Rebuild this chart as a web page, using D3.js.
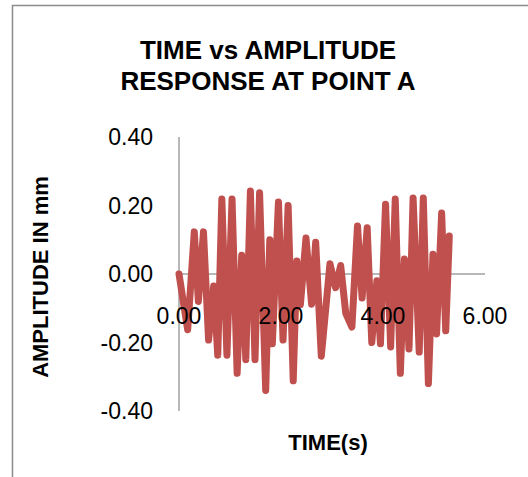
<!DOCTYPE html>
<html>
<head>
<meta charset="utf-8">
<script src="https://cdn.jsdelivr.net/npm/d3@7"></script>
<style>
  body { margin: 0; background: #fff; }
  svg text { font-family: "Liberation Sans", Arial, sans-serif; fill: #000; }
</style>
</head>
<body>
<div id="chart"></div>
<script>
// values
const TIME = [0, 0.17, 0.30, 0.38, 0.48, 0.58, 0.68, 0.76, 0.84, 0.94,
  1.04, 1.14, 1.23, 1.31, 1.40, 1.49, 1.58, 1.70, 1.78, 1.83,
  1.95, 2.04, 2.14, 2.24, 2.31, 2.38, 2.49, 2.60, 2.68, 2.79,
  2.96, 3.07, 3.17, 3.27, 3.39, 3.50, 3.59, 3.69, 3.78, 3.88,
  3.95, 4.05, 4.15, 4.24, 4.34, 4.42, 4.51, 4.59, 4.71, 4.79,
  4.89, 4.98, 5.05, 5.15, 5.23, 5.30];
const AMPLITUDE = [0, -0.163, 0.123, -0.08, 0.123, -0.193, -0.035, -0.237, 0.219, -0.237,
  0.219, -0.29, 0.055, -0.25, 0.242, -0.25, 0.237, -0.34, 0.10, -0.204,
  0.21, -0.193, 0.20, -0.312, 0.038, -0.09, 0.105, -0.088, 0.093, -0.24,
  0.03, -0.04, 0.025, -0.115, -0.155, 0.14, -0.07, 0.135, -0.2, -0.02,
  -0.204, 0.204, -0.213, 0.219, -0.29, 0.044, -0.219, 0.222, -0.228, 0.222,
  -0.32, 0.058, -0.175, 0.178, -0.166, 0.111];
const X_TICKS = [0, 2, 4, 6];
const Y_TICKS = [-0.4, -0.2, 0, 0.2, 0.4];
const TITLE = ["TIME vs AMPLITUDE", "RESPONSE AT POINT A"];

const W = 528, H = 477;
const fmt = d => d3.format(".2f")(d).replace("\u2212", "-");

const svg = d3.select("#chart").append("svg")
  .attr("width", W)
  .attr("height", H);

// outer chart frame (runs off right and bottom edge)
svg.append("rect")
  .attr("x", 12.5).attr("y", 5.5)
  .attr("width", 560).attr("height", 520)
  .attr("fill", "none")
  .attr("stroke", "#8c8c8c")
  .attr("stroke-width", 1.5);

const x = d3.scaleLinear().domain([0, 6]).range([179, 485]);
const y = d3.scaleLinear().domain([-0.4, 0.4]).range([411, 137]);

svg.selectAll("text.title")
  .data(TITLE)
  .enter()
  .append("text")
  .attr("class", "title")
  .attr("x", 268)
  .attr("y", (d, i) => 59 + i * 31)
  .attr("text-anchor", "middle")
  .attr("font-size", 26)
  .attr("font-weight", "bold")
  .text(d => d);

// y axis (vertical line at x=0)
svg.append("line")
  .attr("x1", x(0)).attr("x2", x(0))
  .attr("y1", y(0.4)).attr("y2", y(-0.4))
  .attr("stroke", "#a0a0a0")
  .attr("stroke-width", 1.5);

// x axis crosses at 0
svg.append("line")
  .attr("x1", x(0)).attr("x2", x(6))
  .attr("y1", y(0)).attr("y2", y(0))
  .attr("stroke", "#a0a0a0")
  .attr("stroke-width", 1.5);

svg.selectAll("text.ytick")
  .data(Y_TICKS)
  .enter()
  .append("text")
  .attr("class", "ytick")
  .attr("x", 153)
  .attr("y", d => y(d))
  .attr("dy", "0.35em")
  .attr("text-anchor", "end")
  .attr("font-size", 23)
  .text(fmt);

const line = d3.line()
  .x((d, i) => x(TIME[i]))
  .y(d => y(d));

svg.append("path")
  .datum(AMPLITUDE)
  .attr("d", line)
  .attr("fill", "none")
  .attr("stroke", "#c0504d")
  .attr("stroke-width", 7)
  .attr("stroke-linejoin", "round")
  .attr("stroke-linecap", "round");

// x labels sit on top of the series
svg.selectAll("text.xtick")
  .data(X_TICKS)
  .enter()
  .append("text")
  .attr("class", "xtick")
  .attr("x", d => x(d))
  .attr("y", y(0) + 42)
  .attr("dy", "0.35em")
  .attr("text-anchor", "middle")
  .attr("font-size", 23)
  .text(fmt);

svg.append("text")
  .attr("x", 328)
  .attr("y", 450)
  .attr("text-anchor", "middle")
  .attr("font-size", 22)
  .attr("font-weight", "bold")
  .text("TIME(s)");

svg.append("text")
  .attr("transform", "translate(48,277) rotate(-90)")
  .attr("text-anchor", "middle")
  .attr("font-size", 22)
  .attr("font-weight", "bold")
  .text("AMPLITUDE IN mm");
</script>
</body>
</html>
